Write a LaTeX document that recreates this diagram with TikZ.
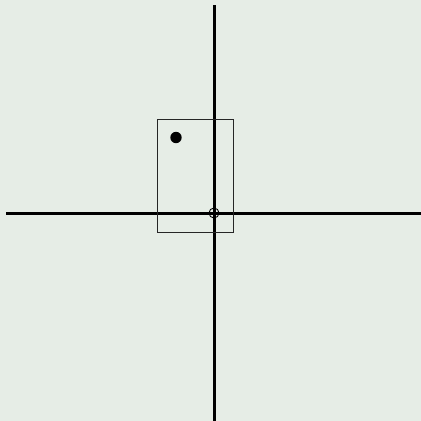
\documentclass[tikz,border=0pt]{standalone}
\usepackage{tikz}
\usepackage{xcolor}
\usetikzlibrary{positioning, calc}
\definecolor{Plot_Bg}{HTML}{E6EDE6}

\begin{document}
\begin{tikzpicture}[x=1pt, y=-1pt,
    axisline/.style={line width=3pt, black},
    boxline/.style={line width=0.9pt, black!85}]

    % === Background ===
    \fill[Plot_Bg] (0,0) rectangle (421,421);
    \useasboundingbox (0,0) rectangle (421,421);

    % === Axes ===
    \coordinate (origin) at (214,213);
    \coordinate (xleft) at (6,213);
    \coordinate (xright) at (421,213);
    \coordinate (ytop) at (214,5);
    \coordinate (ybottom) at (214,421);
    \draw[axisline] (xleft) -- (xright);
    \draw[axisline] (ytop) -- (ybottom);

    % === Box and points ===
    \draw[boxline] (157,119) rectangle (233,232);
    \fill[black] (176,137.5) circle (5.7);
    \draw[line width=0.9pt] (origin) circle (5);

\end{tikzpicture}
\end{document}
